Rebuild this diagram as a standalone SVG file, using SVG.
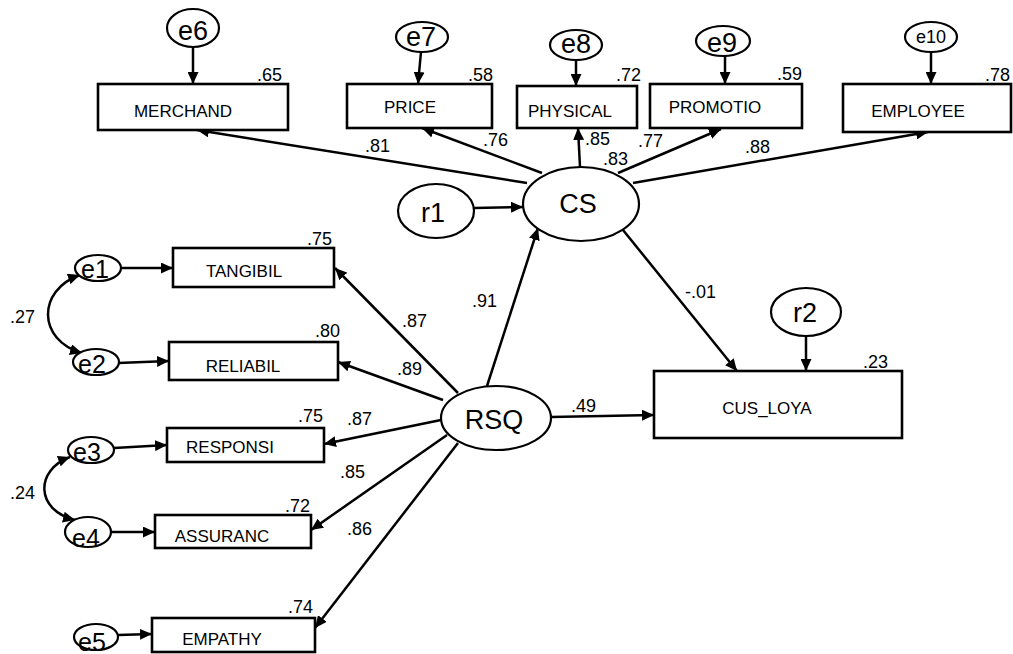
<svg xmlns="http://www.w3.org/2000/svg" width="1013" height="654" viewBox="0 0 1013 654">
<style>
.box{fill:#fff;stroke:#000;stroke-width:2.6}
.ell{fill:#fff;stroke:#000;stroke-width:2.2}
.lbl{font-family:"Liberation Sans",Arial,sans-serif;font-size:17px;fill:#000}
.val{font-family:"Liberation Sans",Arial,sans-serif;font-size:18px;fill:#000}
.big{font-family:"Liberation Sans",Arial,sans-serif;font-size:27px;fill:#000;text-anchor:middle}
.sm{font-family:"Liberation Sans",Arial,sans-serif;font-size:25px;fill:#000;text-anchor:middle}
.mid{text-anchor:middle}
.c line,.c path{stroke:#000;stroke-width:2.5;fill:none;marker-end:url(#ah)}
.c path{marker-start:url(#ah)}
</style>
<defs>
<marker id="ah" markerUnits="userSpaceOnUse" markerWidth="13" markerHeight="11" refX="12" refY="5.5" orient="auto-start-reverse">
<path d="M0,0 L12,5.5 L0,11 z" fill="#000"/>
</marker>
</defs>
<rect width="1013" height="654" fill="#fff"/>
<g class="c" id="connectors">
<line x1="527" y1="183" x2="197" y2="130"/>
<line x1="542" y1="173" x2="422" y2="128"/>
<line x1="580" y1="167" x2="578" y2="128"/>
<line x1="618" y1="173" x2="721" y2="129"/>
<line x1="633" y1="183" x2="928" y2="132"/>
<line x1="474" y1="208" x2="523" y2="207"/>
<line x1="487" y1="386" x2="538" y2="228"/>
<line x1="623" y1="230" x2="737" y2="371"/>
<line x1="806" y1="336" x2="806" y2="371"/>
<line x1="551" y1="417" x2="654" y2="415"/>
<line x1="458" y1="393" x2="335" y2="268"/>
<line x1="443" y1="400" x2="338" y2="362"/>
<line x1="441" y1="420" x2="324" y2="444"/>
<line x1="447" y1="435" x2="311" y2="530"/>
<line x1="458" y1="443" x2="315" y2="628"/>
<line x1="193" y1="47" x2="193" y2="84"/>
<line x1="421" y1="52" x2="418" y2="84"/>
<line x1="576" y1="60" x2="576" y2="86"/>
<line x1="725" y1="56" x2="725" y2="84"/>
<line x1="931" y1="52" x2="931" y2="84"/>
<line x1="122" y1="268" x2="173" y2="268"/>
<line x1="118" y1="363" x2="169" y2="361"/>
<line x1="114" y1="448" x2="167" y2="445"/>
<line x1="111" y1="532" x2="155" y2="532"/>
<line x1="118" y1="635" x2="152" y2="634"/>
<path d="M80,275 C37,290 37,340 82,353"/>
<path d="M70,457 C35,470 35,510 75,520"/>
</g>
<g id="MERCHAND"><rect class="box" x="98" y="84" width="190" height="46"/><text class="lbl mid" x="183" y="117">MERCHAND</text><text class="val" x="257" y="81">.65</text></g>
<g id="PRICE"><rect class="box" x="347" y="84" width="145" height="44"/><text class="lbl mid" x="410" y="113">PRICE</text><text class="val" x="468" y="81">.58</text></g>
<g id="PHYSICAL"><rect class="box" x="517" y="86" width="120" height="42"/><text class="lbl mid" x="570" y="117">PHYSICAL</text><text class="val" x="616" y="81">.72</text></g>
<g id="PROMOTIO"><rect class="box" x="650" y="84" width="152" height="44"/><text class="lbl mid" x="715" y="113">PROMOTIO</text><text class="val" x="777" y="80">.59</text></g>
<g id="EMPLOYEE"><rect class="box" x="843" y="84" width="168" height="48"/><text class="lbl mid" x="918" y="117">EMPLOYEE</text><text class="val" x="985" y="81">.78</text></g>
<g id="TANGIBIL"><rect class="box" x="173" y="248" width="161" height="39"/><text class="lbl mid" x="244" y="277">TANGIBIL</text><text class="val" x="307" y="245">.75</text></g>
<g id="RELIABIL"><rect class="box" x="169" y="342" width="169" height="38"/><text class="lbl mid" x="243" y="372">RELIABIL</text><text class="val" x="315" y="337">.80</text></g>
<g id="RESPONSI"><rect class="box" x="167" y="428" width="157" height="34"/><text class="lbl mid" x="230" y="453">RESPONSI</text><text class="val" x="298" y="422">.75</text></g>
<g id="ASSURANC"><rect class="box" x="155" y="515" width="156" height="33"/><text class="lbl mid" x="222" y="542">ASSURANC</text><text class="val" x="285" y="512">.72</text></g>
<g id="EMPATHY"><rect class="box" x="152" y="618" width="163" height="34"/><text class="lbl mid" x="222" y="645">EMPATHY</text><text class="val" x="288" y="613">.74</text></g>
<g id="CUS_LOYA"><rect class="box" x="654" y="371" width="248" height="67"/><text class="lbl mid" x="767" y="414">CUS_LOYA</text><text class="val" x="863" y="368">.23</text></g>
<g id="e6"><ellipse class="ell" cx="193" cy="28" rx="26" ry="19"/><text class="big" x="193" y="40">e6</text></g>
<g id="e7"><ellipse class="ell" cx="422" cy="37" rx="26" ry="15"/><text class="big" x="421" y="46">e7</text></g>
<g id="e8"><ellipse class="ell" cx="576" cy="45" rx="26" ry="15"/><text class="big" x="576" y="53">e8</text></g>
<g id="e9"><ellipse class="ell" cx="723" cy="41" rx="27" ry="15"/><text class="big" x="722" y="52">e9</text></g>
<g id="e10"><ellipse class="ell" cx="931" cy="37" rx="26" ry="15"/><text class="val mid" x="931" y="43">e10</text></g>
<g id="r1"><ellipse class="ell" cx="436" cy="211" rx="38" ry="27"/><text class="big" x="433" y="222">r1</text></g>
<g id="CS"><ellipse class="ell" cx="581" cy="204" rx="58" ry="37"/><text class="big" x="578" y="213">CS</text></g>
<g id="RSQ"><ellipse class="ell" cx="496" cy="418" rx="55" ry="32"/><text class="big" x="494" y="429">RSQ</text></g>
<g id="r2"><ellipse class="ell" cx="806" cy="312" rx="35" ry="24"/><text class="big" x="805" y="322">r2</text></g>
<g id="e1"><ellipse class="ell" cx="98" cy="268" rx="23" ry="13"/><text class="sm" x="95" y="278">e1</text></g>
<g id="e2"><ellipse class="ell" cx="96" cy="362" rx="23" ry="13"/><text class="sm" x="92" y="373">e2</text></g>
<g id="e3"><ellipse class="ell" cx="91" cy="450" rx="23" ry="13"/><text class="sm" x="87" y="461">e3</text></g>
<g id="e4"><ellipse class="ell" cx="88" cy="532" rx="23" ry="15"/><text class="sm" x="86" y="547">e4</text></g>
<g id="e5"><ellipse class="ell" cx="96" cy="637" rx="22" ry="13"/><text class="sm" x="92" y="651">e5</text></g>
<g id="path-labels">
<text class="val" x="365" y="152">.81</text>
<text class="val" x="483" y="146">.76</text>
<text class="val" x="585" y="145">.85</text>
<text class="val" x="603" y="165">.83</text>
<text class="val" x="638" y="147">.77</text>
<text class="val" x="745" y="153">.88</text>
<text class="val" x="402" y="327">.87</text>
<text class="val" x="397" y="375">.89</text>
<text class="val" x="347" y="425">.87</text>
<text class="val" x="340" y="478">.85</text>
<text class="val" x="347" y="535">.86</text>
<text class="val" x="472" y="307">.91</text>
<text class="val" x="571" y="412">.49</text>
<text class="val" x="685" y="298">-.01</text>
<text class="val" x="10" y="323">.27</text>
<text class="val" x="10" y="499">.24</text>
</g>
</svg>
